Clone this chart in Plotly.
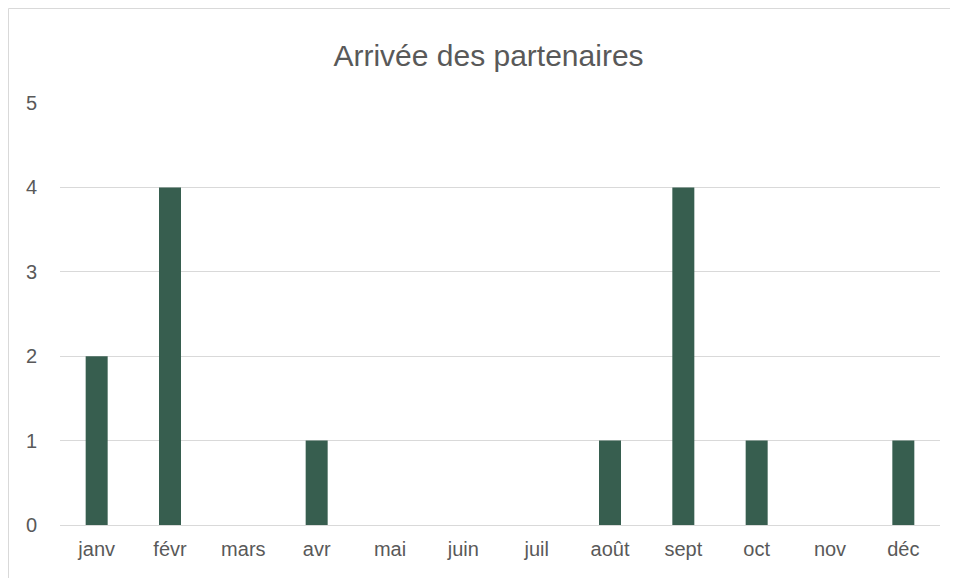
import plotly.graph_objects as go

months = ["janv", "févr", "mars", "avr", "mai", "juin", "juil", "août", "sept", "oct", "nov", "déc"]
arrivals = [2, 4, 0, 1, 0, 0, 0, 1, 4, 1, 0, 1]
y_ticks = [0, 1, 2, 3, 4, 5]

FONT = "Liberation Sans Narrow, Arial Narrow, Liberation Sans, Arial, sans-serif"
TXT = "#595959"

# page has an 8px body margin, so the figure origin sits at (8, 8)
W, H = 950, 570
L, R, T, B = 52, 18, 95, 53
pw, ph = W - L - R, H - T - B

fig = go.Figure(go.Bar(
    x=months, y=arrivals,
    marker=dict(color="#375E4F", line=dict(width=0)),
))

x_left = (0.5 - L) / pw
y_top = 1 + (T - 0.5) / ph
border = dict(color="#d9d9d9", width=1)

fig.update_layout(
    width=W, height=H,
    margin=dict(l=L, r=R, t=T, b=B),
    paper_bgcolor="white", plot_bgcolor="white",
    bargap=0.7,
    showlegend=False,
    title=dict(text="Arrivée des partenaires", x=480.5 / W, xanchor="center",
               xref="container", y=1 - 47 / H, yanchor="middle", yref="container",
               font=dict(family=FONT, size=30, color=TXT)),
    font=dict(family=FONT, color=TXT),
    xaxis=dict(showgrid=False, showline=True, linecolor="#d9d9d9", linewidth=1,
               tickfont=dict(family=FONT, size=20, color=TXT), ticks="",
               ticklabelstandoff=6),
    yaxis=dict(range=[0, 5], tickvals=y_ticks, showgrid=True, gridcolor="#d9d9d9",
               gridwidth=1, zeroline=False, showline=False, ticks="",
               tickfont=dict(family=FONT, size=20, color=TXT),
               ticklabelstandoff=22),
    shapes=[
        dict(type="line", xref="paper", yref="paper", x0=x_left, x1=1 + R / pw,
             y0=y_top, y1=y_top, line=border, layer="below"),
        dict(type="line", xref="paper", yref="paper", x0=x_left, x1=x_left,
             y0=-B / ph, y1=y_top, line=border, layer="below"),
    ],
)

fig.write_html("out.html")
